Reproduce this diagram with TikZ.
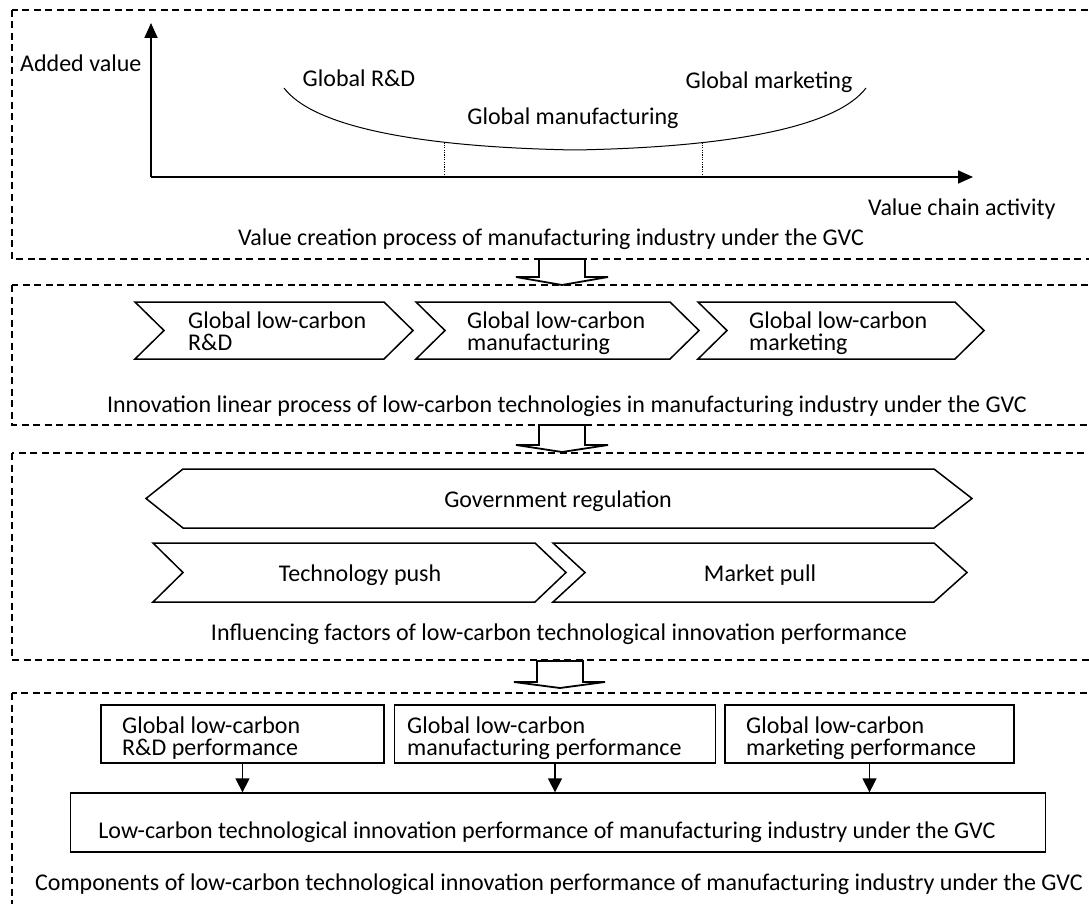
\documentclass[tikz,border=0pt]{standalone}
\usepackage{fontspec}
\setmainfont{Carlito}
\usetikzlibrary{arrows.meta}
\begin{document}
\begin{tikzpicture}[x=1pt,y=-1pt,
  font=\fontsize{24}{21}\selectfont,
  panel/.style={draw, line width=1.1pt, dash pattern=on 7pt off 4.5pt},
  chev/.style={draw, line width=1.5pt, line join=miter},
  blockarrow/.style={draw, line width=1.8pt, fill=white, line join=miter},
  axis/.style={line width=1.8pt},
  curveline/.style={line width=1pt},
  dotline/.style={line width=1pt, dash pattern=on 1.2pt off 1.2pt},
  txt/.style={inner sep=0pt, anchor=base},
  twoline/.style={inner sep=0pt, anchor=base west, align=left, font=\fontsize{24}{22}\selectfont},
  perfbox/.style={draw, line width=1.3pt, inner sep=0pt, minimum height=58pt},
  conn/.style={line width=1.3pt, -{Triangle[length=14pt,width=14pt]}}
]
\useasboundingbox (0,0) rectangle (1089,904);
\clip (0,0) rectangle (1089,904);

% ---------- panels ----------
\draw[panel] (12,10) rectangle (1100,259);
\draw[panel] (12,285) rectangle (1100,425);
\draw[panel] (12,453) rectangle (1100,660);
\draw[panel] (12,693) rectangle (1100,930);

% ---------- panel 1 : smile curve ----------
\coordinate (O) at (151,177);
\coordinate (ytip) at (151,23);
\coordinate (xtip) at (973,177);
\draw[axis, -{Triangle[length=15pt,width=13pt]}] (O) -- (ytip);
\draw[axis, -{Triangle[length=15pt,width=13pt]}] (O) -- (xtip);
\draw[curveline] (284,88) .. controls (312,125) and (410,147) .. (575,150)
                  .. controls (740,147) and (838,125) .. (866,88);
\coordinate (d1a) at (444,142.5);
\coordinate (d1b) at (444,177);
\coordinate (d2a) at (702,142.5);
\coordinate (d2b) at (702,177);
\draw[dotline] (d1a) -- (d1b);
\draw[dotline] (d2a) -- (d2b);

\node[txt, anchor=base west] (ylab) at (20,72) {Added value};
\node[txt] (rd) at (359,87) {Global R\&D};
\node[txt] (mf) at (573,125) {Global manufacturing};
\node[txt] (mk) at (769,89) {Global marketing};
\node[txt, anchor=base west] (xlab) at (868,215) {Value chain activity};
\node[txt] (cap1) at (551,245) {Value creation process of manufacturing industry under the GVC};

% ---------- block arrows ----------
\draw[blockarrow] (539,259) -- (585,259) -- (585,277) -- (608,277) -- (562,285) -- (516,277) -- (539,277) -- cycle;
\draw[blockarrow] (539,425) -- (585,425) -- (585,445) -- (608,445) -- (562,452) -- (516,445) -- (539,445) -- cycle;
\draw[blockarrow] (537,661) -- (583,661) -- (583,682) -- (605,682) -- (560,688) -- (514,682) -- (537,682) -- cycle;

% ---------- panel 2 : linear process ----------
\draw[chev] (135,302) -- (384,302) -- (413,330.5) -- (384,359) -- (135,359) -- (164,330.5) -- cycle;
\draw[chev] (416,302) -- (670,302) -- (699,330.5) -- (670,359) -- (416,359) -- (445,330.5) -- cycle;
\draw[chev] (698,302) -- (955,302) -- (984,330.5) -- (955,359) -- (698,359) -- (727,330.5) -- cycle;
\node[twoline] (c1) at (188,350) {Global low-carbon\\R\&D};
\node[twoline] (c2) at (467,350) {Global low-carbon\\manufacturing};
\node[twoline] (c3) at (749,350) {Global low-carbon\\marketing};
\node[txt] (cap2) at (567,412) {Innovation linear process of low-carbon technologies in manufacturing industry under the GVC};

% ---------- panel 3 : influencing factors ----------
\draw[chev] (146,498.5) -- (183,469) -- (934,469) -- (972,498.5) -- (934,528) -- (183,528) -- cycle;
\draw[chev] (153,543) -- (535,543) -- (566,572.5) -- (535,602) -- (153,602) -- (183,572.5) -- cycle;
\draw[chev] (553,543) -- (934,543) -- (967,572.5) -- (934,602) -- (553,602) -- (585,572.5) -- cycle;
\node[txt] (gov) at (558,507) {Government regulation};
\node[txt] (tp) at (360,581) {Technology push};
\node[txt] (mp) at (760,581) {Market pull};
\node[txt] (cap3) at (559,640) {Influencing factors of low-carbon technological innovation performance};

% ---------- panel 4 : components ----------
\node[perfbox, minimum width=283pt] (b1) at (242.5,734) {};
\node[perfbox, minimum width=321pt] (b2) at (555,734) {};
\node[perfbox, minimum width=289pt] (b3) at (869.5,734) {};
\node[perfbox, minimum width=975pt, minimum height=59pt] (big) at (558,822.5) {};
\node[twoline] (b1t) at (122,755) {Global low-carbon\\R\&D performance};
\node[twoline] (b2t) at (407,755) {Global low-carbon\\manufacturing performance};
\node[twoline] (b3t) at (746,755) {Global low-carbon\\marketing performance};
\node[txt] (bigt) at (547,838) {Low-carbon technological innovation performance of manufacturing industry under the GVC};
\draw[conn] (b1.south) -- (b1.south |- big.north);
\draw[conn] (b2.south) -- (b2.south |- big.north);
\draw[conn] (b3.south) -- (b3.south |- big.north);
\node[txt] (cap4) at (559,890) {Components of low-carbon technological innovation performance of manufacturing industry under the GVC};
\end{tikzpicture}
\end{document}
